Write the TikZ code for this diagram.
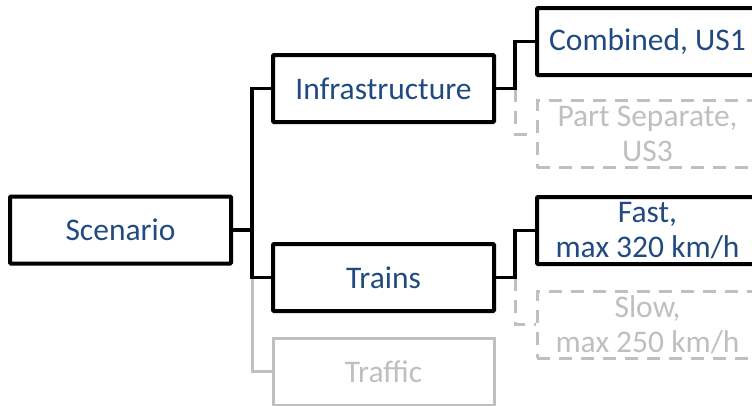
\documentclass[tikz,border=0pt]{standalone}
\usepackage{fontspec}
\setmainfont{Carlito}
\definecolor{txtblue}{RGB}{33,75,128}
\definecolor{paleg}{RGB}{191,191,191}
\begin{document}
\begin{tikzpicture}[x=1pt,y=-1pt,
  every node/.style={inner sep=0pt,align=center,font=\fontsize{31.5}{35}\selectfont},
  box/.style={draw=black,line width=4pt,rounded corners=1pt,minimum width=221pt,minimum height=67pt,text=txtblue},
  offbox/.style={draw=paleg,line width=3pt,minimum width=221pt,minimum height=67pt,text=paleg},
  offdash/.style={offbox,dashed,dash pattern=on 13pt off 9pt},
  link/.style={draw=black,line width=3.6pt},
  offlink/.style={draw=paleg,line width=3pt},
  offdashlink/.style={offlink,dash pattern=on 13pt off 9pt}]
\useasboundingbox (0,0) rectangle (752,405);
\clip (0,0) rectangle (752,405);

% first level
\node[box] (scen) at (120.5,230) {Scenario};
% second level
\node[box] (infra) at (383.5,88.5) {Infrastructure};
\node[box] (trains) at (383.5,277.5) {Trains};
\node[offbox] (traffic) at (383.5,371.5) {Traffic};
% third level
\node[box] (comb) at (647.5,41.5) {Combined, US1};
\node[offdash] (part) at (647.5,134) {Part Separate,\\US3};
\node[box] (fast) at (647.5,230.5) {Fast,\\max 320 km/h};
\node[offdash] (slow) at (647.5,324.5) {Slow,\\max 250 km/h};

\coordinate (trunk) at (252,0);
\coordinate (fork) at (515,0);

% inactive branches first, so the active ones sit on top
\draw[offlink] (trains.west -| trunk) |- (traffic.west);
\draw[offdashlink] (infra.east -| fork) |- (part.west);
\draw[offdashlink] (trains.east -| fork) |- (slow.west);

% active branches
\draw[link] (scen.east) -- (scen.east -| trunk);
\draw[link] (infra.west) -| (trunk |- trains.west) -- (trains.west);
\draw[link] (infra.east) -| (fork |- comb.west) -- (comb.west);
\draw[link] (trains.east) -| (fork |- fast.west) -- (fast.west);
\end{tikzpicture}
\end{document}
